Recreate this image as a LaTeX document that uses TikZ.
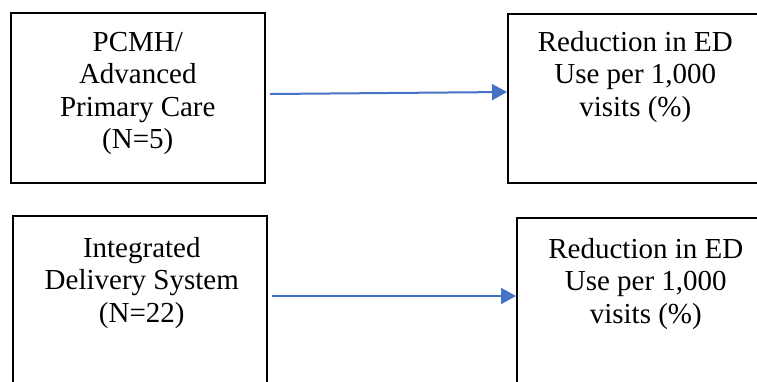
\documentclass[tikz,border=0pt]{standalone}
\usepackage{fontspec}
\setmainfont{Liberation Serif}
\usetikzlibrary{arrows.meta,calc}
\definecolor{arrowblue}{RGB}{68,114,196}
\begin{document}
\begin{tikzpicture}[x=1pt,y=-1pt,
  box/.style={draw=black,line width=1.6pt,rectangle,inner sep=0pt,anchor=north west},
  txt/.style={align=center,anchor=north,inner sep=0pt,font=\fontsize{29}{32.5}\selectfont},
  link/.style={draw=arrowblue,line width=2pt,-{Triangle[length=15pt,width=16pt]}}]
\useasboundingbox (0,0) rectangle (757,381);
\node[box,minimum width=254pt,minimum height=170pt] (A) at (10,12) {};
\node[box,minimum width=255pt,minimum height=169pt] (B) at (507,13) {};
\node[box,minimum width=254pt,minimum height=180pt] (C) at (12,215) {};
\node[box,minimum width=254pt,minimum height=180pt] (D) at (516,217) {};
\node[txt] (At) at ([yshift=-20pt]A.north) {PCMH/\\Advanced\\Primary Care\\(N=5)};
\node[txt] (Bt) at ([yshift=-18pt]B.north) {Reduction in ED\\Use per 1,000\\visits (\%)};
\node[txt] (Ct) at ([yshift=-22pt,xshift=2pt]C.north) {Integrated\\Delivery System\\(N=22)};
\node[txt] (Dt) at ([yshift=-21pt,xshift=2pt]D.north) {Reduction in ED\\Use per 1,000\\visits (\%)};
\coordinate (s1) at (270,94);
\coordinate (s2) at (272,296);
\draw[link] (s1) -- (B.west |- 0,92);
\draw[link] (s2) -- (D.west |- s2);
\end{tikzpicture}
\end{document}
